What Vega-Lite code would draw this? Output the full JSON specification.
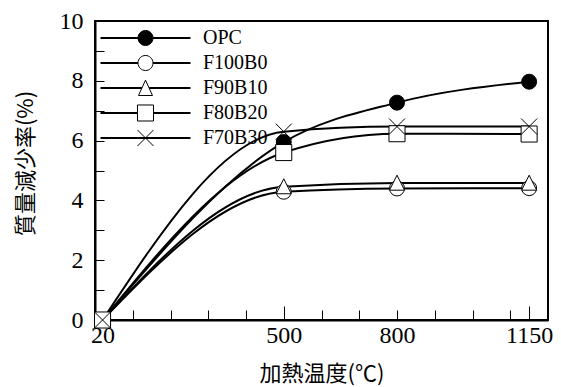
{
  "$schema": "https://vega.github.io/schema/vega-lite/v6.json",
  "width": 453,
  "height": 299,
  "autosize": {"type": "none"},
  "padding": {"left": 95, "top": 21, "right": 13, "bottom": 67},
  "background": "white",
  "config": {
    "view": {"stroke": "black", "strokeWidth": 2},
    "axis": {"grid": false, "domainColor": "black", "domainWidth": 2, "tickColor": "black", "tickWidth": 1,
      "labelFont": "Liberation Serif", "labelFontSize": 24, "labelColor": "black",
      "titleFont": "Noto Sans CJK JP", "titleFontSize": 22, "titleFontWeight": "normal", "titleColor": "black",
      "labelOverlap": false, "labelFlush": false}
  },
  "data": {"values": [
    {"series": "OPC", "temp": 20, "loss": 0},
    {"series": "OPC", "temp": 500, "loss": 5.95},
    {"series": "OPC", "temp": 800, "loss": 7.27},
    {"series": "OPC", "temp": 1150, "loss": 7.97},
    {"series": "F100B0", "temp": 20, "loss": 0},
    {"series": "F100B0", "temp": 500, "loss": 4.29},
    {"series": "F100B0", "temp": 800, "loss": 4.4},
    {"series": "F100B0", "temp": 1150, "loss": 4.41},
    {"series": "F90B10", "temp": 20, "loss": 0},
    {"series": "F90B10", "temp": 500, "loss": 4.46},
    {"series": "F90B10", "temp": 800, "loss": 4.58},
    {"series": "F90B10", "temp": 1150, "loss": 4.58},
    {"series": "F80B20", "temp": 20, "loss": 0},
    {"series": "F80B20", "temp": 500, "loss": 5.6},
    {"series": "F80B20", "temp": 800, "loss": 6.23},
    {"series": "F80B20", "temp": 1150, "loss": 6.22},
    {"series": "F70B30", "temp": 20, "loss": 0},
    {"series": "F70B30", "temp": 500, "loss": 6.3},
    {"series": "F70B30", "temp": 800, "loss": 6.47},
    {"series": "F70B30", "temp": 1150, "loss": 6.47}
  ]},
  "encoding": {
    "x": {"field": "temp", "type": "quantitative",
      "scale": {"domain": [0, 1200], "nice": false, "zero": false},
      "axis": {
        "title": "加熱温度(℃)",
        "values": [20, 100, 200, 300, 400, 500, 600, 700, 800, 900, 1000, 1100, 1150],
        "format": "d",
        "labelExpr": "indexof([20, 500, 800, 1150], datum.value) >= 0 ? datum.label : ''",
        "tickSize": {"condition": {"test": "datum.value == 500 || datum.value == 1150", "value": -14}, "value": -10},
        "labelPadding": {"condition": {"test": "datum.value == 500 || datum.value == 1150", "value": 17}, "value": 13},
        "tickOpacity": {"condition": {"test": "datum.value == 20", "value": 0}, "value": 1},
        "titlePadding": 16
      }},
    "y": {"field": "loss", "type": "quantitative",
      "scale": {"domain": [0, 10], "nice": false},
      "axis": {
        "title": "質量減少率(%)",
        "values": [0, 1, 2, 3, 4, 5, 6, 7, 8, 9, 10],
        "labelExpr": "datum.value % 2 == 0 ? datum.label : ''",
        "tickSize": -9,
        "labelPadding": 21,
        "titlePadding": 22,
        "titleY": 142,
        "titleColor": "black"
      }}
  },
  "layer": [
    {
      "mark": {"type": "line", "interpolate": "monotone", "strokeWidth": 2, "color": "black"},
      "encoding": {"detail": {"field": "series"}}
    },
    {
      "mark": {"type": "point", "filled": true, "stroke": "black", "strokeWidth": 1, "size": 225, "opacity": 1},
      "encoding": {
        "shape": {"field": "series", "type": "nominal", "legend": null,
          "scale": {"domain": ["OPC", "F100B0", "F90B10", "F80B20", "F70B30"],
            "range": ["circle", "circle", "M0,-1.05L-1,0.95L1,0.95Z", "M-1.07,-1.07L1.07,-1.07L1.07,1.07L-1.07,1.07Z", "M-1.07,-1.07L1.07,1.07M-1.07,1.07L1.07,-1.07"]}},
        "fill": {"field": "series", "type": "nominal", "legend": null,
          "scale": {"domain": ["OPC", "F100B0", "F90B10", "F80B20", "F70B30"],
            "range": ["black", "white", "white", "white", "white"]}}
      }
    },
    {
      "mark": {"type": "point", "filled": true, "strokeWidth": 1, "opacity": 0},
      "encoding": {
        "shape": {"field": "series", "type": "nominal",
          "scale": {"domain": ["OPC", "F100B0", "F90B10", "F80B20", "F70B30"],
            "range": [
              "M-1,-0.0111L-0.1667,-0.0111M-1,0.0111L-0.1667,0.0111M0.1667,-0.0111L1,-0.0111M0.1667,0.0111L1,0.0111M0.1667,0A0.1667,0.1667,0,1,1,-0.1667,0A0.1667,0.1667,0,1,1,0.1667,0Z",
              "M-1,-0.0111L-0.1667,-0.0111M-1,0.0111L-0.1667,0.0111M0.1667,-0.0111L1,-0.0111M0.1667,0.0111L1,0.0111M0.1667,0A0.1667,0.1667,0,1,1,-0.1667,0A0.1667,0.1667,0,1,1,0.1667,0Z",
              "M-1,-0.0111L-0.08,-0.0111M-1,0.0111L-0.08,0.0111M0.08,-0.0111L1,-0.0111M0.08,0.0111L1,0.0111M0,-0.1756L-0.1556,0.1667L0.1556,0.1667Z",
              "M-1,-0.0111L-0.1778,-0.0111M-1,0.0111L-0.1778,0.0111M0.1778,-0.0111L1,-0.0111M0.1778,0.0111L1,0.0111M-0.1778,-0.1778L0.1778,-0.1778L0.1778,0.1778L-0.1778,0.1778Z",
              "M-1,-0.0111L1,-0.0111M-1,0.0111L1,0.0111M-0.1778,-0.1778L0.1778,0.1778M-0.1778,0.1778L0.1778,-0.1778"
            ]},
          "legend": {"orient": "none", "legendX": 5, "legendY": 7, "title": null, "padding": 0,
            "symbolSize": 8100, "clipHeight": 20, "rowPadding": 5, "labelOffset": 12,
            "symbolStrokeWidth": 1, "symbolOpacity": 1,
            "labelFont": "Liberation Serif", "labelFontSize": 20, "labelColor": "black", "labelLimit": 200}},
        "fill": {"field": "series", "type": "nominal",
          "scale": {"domain": ["OPC", "F100B0", "F90B10", "F80B20", "F70B30"],
            "range": ["black", "white", "white", "white", "white"]},
          "legend": {"orient": "none", "legendX": 5, "legendY": 7, "title": null, "padding": 0,
            "symbolSize": 8100, "clipHeight": 20, "rowPadding": 5, "labelOffset": 12,
            "symbolStrokeWidth": 1, "symbolOpacity": 1,
            "labelFont": "Liberation Serif", "labelFontSize": 20, "labelColor": "black", "labelLimit": 200}},
        "stroke": {"field": "series", "type": "nominal",
          "scale": {"domain": ["OPC", "F100B0", "F90B10", "F80B20", "F70B30"],
            "range": ["black", "black", "black", "black", "black"]},
          "legend": {"orient": "none", "legendX": 5, "legendY": 7, "title": null, "padding": 0,
            "symbolSize": 8100, "clipHeight": 20, "rowPadding": 5, "labelOffset": 12,
            "symbolStrokeWidth": 1, "symbolOpacity": 1,
            "labelFont": "Liberation Serif", "labelFontSize": 20, "labelColor": "black", "labelLimit": 200}}
      }
    }
  ],
  "resolve": {"scale": {"shape": "independent", "fill": "independent", "stroke": "independent"}}
}
